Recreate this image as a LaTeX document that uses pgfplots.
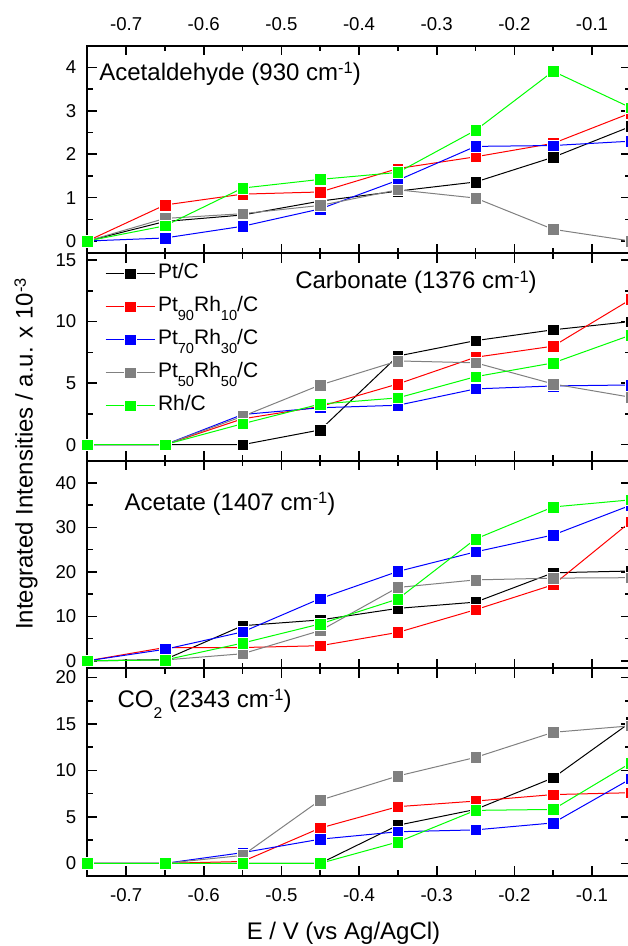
\documentclass[border=0pt]{standalone}
\usepackage{fontspec}
\setmainfont{Liberation Sans}
\usepackage{pgfplots}
\pgfplotsset{compat=1.18}

\definecolor{cgray}{HTML}{808080}
\definecolor{cgreen}{HTML}{00FF00}

% low subscripts / superscripts as in the original figure
\newcommand{\lsub}[1]{\raisebox{-4.6pt}{\fontsize{7.3}{8}\selectfont #1}}
\newcommand{\tsub}[1]{\raisebox{-5.5pt}{\fontsize{7.8}{8}\selectfont #1}}
\newcommand{\tsup}[1]{\raisebox{3.4pt}{\fontsize{8.2}{9}\selectfont #1}}

\pgfplotscreateplotcyclelist{cat}{
  {black, mark=square*, mark options={solid, fill=black, draw=white, line width=0.2pt}},
  {red, mark=square*, mark options={solid, fill=red, draw=white, line width=0.2pt}},
  {blue, mark=square*, mark options={solid, fill=blue, draw=white, line width=0.2pt}},
  {cgray, mark=square*, mark options={solid, fill=cgray, draw=white, line width=0.2pt}},
  {cgreen, mark=square*, mark options={solid, fill=cgreen, draw=white, line width=0.2pt}}
}

\tikzset{ttl/.style={anchor=base west, inner sep=0pt, font=\fontsize{12}{14}\selectfont}}

\pgfplotsset{
  panel/.style={
    scale only axis, width=271.75pt, height=103.75pt,
    xmin=-0.75, xmax=-0.05,
    xtick={-0.7,-0.6,-0.5,-0.4,-0.3,-0.2,-0.1},
    minor x tick num=1, minor y tick num=1,
    tick align=inside, xtick pos=both, ytick pos=both, yticklabel pos=left,
    major tick length=4.75pt, minor tick length=2.8pt,
    axis line style={line width=1pt},
    every tick/.style={black, line width=0.8pt},
    ticklabel style={font=\fontsize{9.3}{11}\selectfont},
    yticklabel style={xshift=-2pt},
    /pgf/number format/assume math mode=true,
    /pgf/number format/fixed,
    cycle list name=cat,
    every axis plot/.append style={line width=0.5pt, mark size=2.9pt},
    anchor=south west,
  },
}

\begin{document}
\begin{tikzpicture}

% Acetaldehyde
\begin{axis}[panel, at={(43.65pt,346.4pt)}, ymin=-0.28, ymax=4.5,
  ytick={0,1,2,3,4}, xticklabel pos=upper,
  xticklabel style={yshift=4pt}]
\addplot coordinates {(-0.75,0) (-0.65,0.45) (-0.55,0.60) (-0.45,0.92) (-0.35,1.15) (-0.25,1.36) (-0.15,1.93) (-0.05,2.64)};
\addplot coordinates {(-0.75,0) (-0.65,0.83) (-0.55,1.08) (-0.45,1.13) (-0.35,1.67) (-0.25,1.94) (-0.15,2.25) (-0.05,2.95)};
\addplot coordinates {(-0.75,0) (-0.65,0.07) (-0.55,0.34) (-0.45,0.74) (-0.35,1.40) (-0.25,2.18) (-0.15,2.20) (-0.05,2.30)};
\addplot coordinates {(-0.75,0) (-0.65,0.52) (-0.55,0.63) (-0.45,0.82) (-0.35,1.18) (-0.25,0.99) (-0.15,0.27) (-0.05,0.0)};
\addplot coordinates {(-0.75,0) (-0.65,0.35) (-0.55,1.22) (-0.45,1.42) (-0.35,1.58) (-0.25,2.55) (-0.15,3.91) (-0.05,3.07)};
\node[ttl] at (rel axis cs:0.0215,0.831) {Acetaldehyde (930 cm\tsup{-1})};
\end{axis}

% Carbonate
\begin{axis}[panel, at={(43.65pt,242.65pt)}, ymin=-1.3, ymax=15.55,
  ytick={0,5,10,15}, xticklabels={},
  legend cell align=left,
  legend style={at={(rel axis cs:0.032,0.98)}, anchor=north west, draw=none, fill=none,
    inner sep=0pt, row sep=0.5pt, font=\fontsize{10.5}{12}\selectfont,
    nodes={text height=7.5pt, text depth=2.5pt, inner ysep=3pt, inner xsep=1.5pt}},
  legend image code/.code={\draw[mark repeat=2, mark phase=2] plot coordinates {(0cm,0cm) (0.43cm,0cm) (0.86cm,0cm)};}]
\addplot coordinates {(-0.75,0) (-0.65,0) (-0.55,0) (-0.45,1.2) (-0.35,7.2) (-0.25,8.45) (-0.15,9.33) (-0.05,10.0)};
\addplot coordinates {(-0.75,0) (-0.65,0) (-0.55,2.1) (-0.45,3.1) (-0.35,4.93) (-0.25,7.1) (-0.15,8.0) (-0.05,11.8)};
\addplot coordinates {(-0.75,0) (-0.65,0) (-0.55,2.45) (-0.45,3.0) (-0.35,3.2) (-0.25,4.53) (-0.15,4.77) (-0.05,4.85)};
\addplot coordinates {(-0.75,0) (-0.65,0) (-0.55,2.3) (-0.45,4.85) (-0.35,6.8) (-0.25,6.65) (-0.15,4.93) (-0.05,3.85)};
\addplot coordinates {(-0.75,0) (-0.65,0) (-0.55,1.7) (-0.45,3.3) (-0.35,3.8) (-0.25,5.52) (-0.15,6.64) (-0.05,8.9)};
\legend{Pt/C, Pt\lsub{90}Rh\lsub{10}/C, Pt\lsub{70}Rh\lsub{30}/C, Pt\lsub{50}Rh\lsub{50}/C, Rh/C}
\node[ttl] at (rel axis cs:0.382,0.828) {Carbonate (1376 cm\tsup{-1})};
\end{axis}

% Acetate
\begin{axis}[panel, at={(43.65pt,138.9pt)}, ymin=-1.65, ymax=45,
  ytick={0,10,20,30,40}, xticklabels={}]
\addplot coordinates {(-0.75,0) (-0.65,0.3) (-0.55,7.9) (-0.45,9.2) (-0.35,11.8) (-0.25,13.2) (-0.15,19.8) (-0.05,20.2)};
\addplot coordinates {(-0.75,0) (-0.65,3.0) (-0.55,3.0) (-0.45,3.4) (-0.35,6.4) (-0.25,11.5) (-0.15,17.1) (-0.05,31.3)};
\addplot coordinates {(-0.75,0) (-0.65,2.6) (-0.55,6.5) (-0.45,14.0) (-0.35,20.1) (-0.25,24.5) (-0.15,28.3) (-0.05,35.0)};
\addplot coordinates {(-0.75,0) (-0.65,0.2) (-0.55,1.6) (-0.45,6.8) (-0.35,16.5) (-0.25,18.2) (-0.15,18.6) (-0.05,18.7)};
\addplot coordinates {(-0.75,0) (-0.65,0.2) (-0.55,4.0) (-0.45,8.3) (-0.35,13.9) (-0.25,27.4) (-0.15,34.6) (-0.05,36.2)};
\node[ttl] at (rel axis cs:0.068,0.759) {Acetate (1407 cm\tsup{-1})};
\end{axis}

% CO2
\begin{axis}[panel, at={(43.65pt,35.15pt)}, ymin=-1.33, ymax=21,
  ytick={0,5,10,15,20}, xticklabel pos=lower,
  xticklabel style={yshift=-3pt}]
\addplot coordinates {(-0.75,0) (-0.65,0) (-0.55,0) (-0.45,0) (-0.35,4.1) (-0.25,5.8) (-0.15,9.2) (-0.05,15.2)};
\addplot coordinates {(-0.75,0) (-0.65,0) (-0.55,0.2) (-0.45,3.8) (-0.35,6.1) (-0.25,6.7) (-0.15,7.4) (-0.05,7.6)};
\addplot coordinates {(-0.75,0) (-0.65,0) (-0.55,1.15) (-0.45,2.6) (-0.35,3.4) (-0.25,3.6) (-0.15,4.35) (-0.05,9.1)};
\addplot coordinates {(-0.75,0) (-0.65,0) (-0.55,0.85) (-0.45,6.8) (-0.35,9.4) (-0.25,11.4) (-0.15,14.1) (-0.05,14.8)};
\addplot coordinates {(-0.75,0) (-0.65,0) (-0.55,0) (-0.45,0) (-0.35,2.3) (-0.25,5.7) (-0.15,5.8) (-0.05,10.8)};
\node[ttl] at (rel axis cs:0.055,0.811) {CO\tsub{2} (2343 cm\tsup{-1})};
\end{axis}

\node[anchor=base, font=\fontsize{12}{14}\selectfont] at (171.75pt,3pt) {E / V (vs Ag/AgCl)};
\node[rotate=90, font=\fontsize{12}{14}\selectfont] at (13pt,246pt) {Integrated Intensities / a.u. x 10\tsup{-3}};

\pgfresetboundingbox
\useasboundingbox (0,0) rectangle (313.5pt,473pt);
\end{tikzpicture}
\end{document}
